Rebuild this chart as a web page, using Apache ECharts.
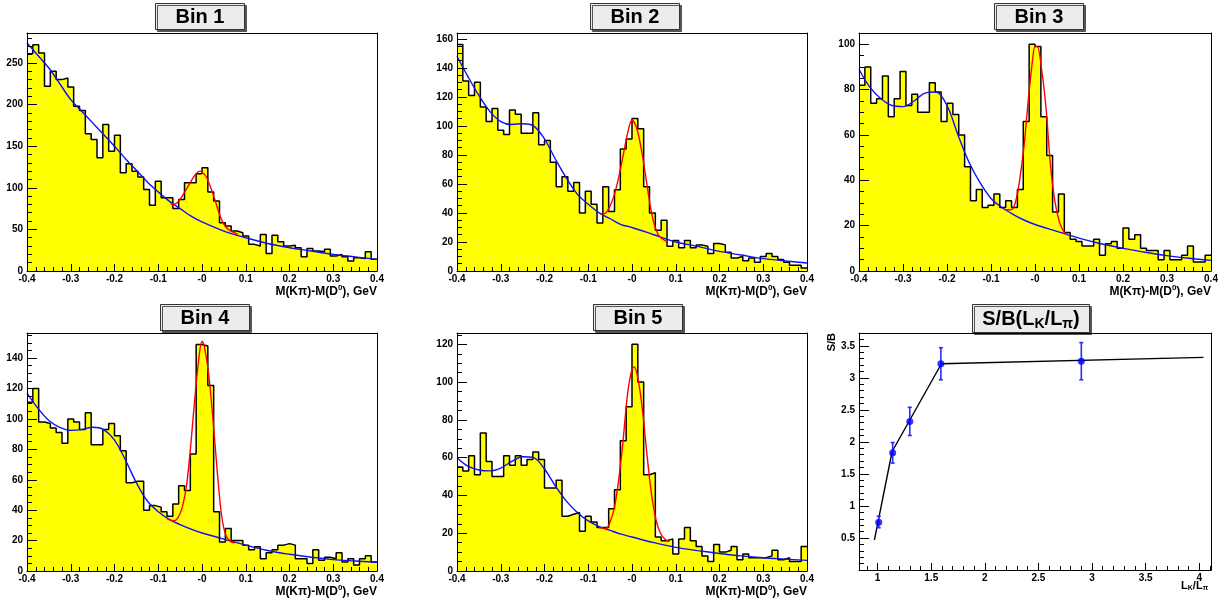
<!DOCTYPE html>
<html>
<head>
<meta charset="utf-8">
<script src="https://cdn.jsdelivr.net/npm/echarts@6.0.0/dist/echarts.min.js"></script>
<style>
html,body{margin:0;padding:0;background:#ffffff;}
#chart{width:1219px;height:601px;}
</style>
</head>
<body>
<div id="chart"></div>
<script>
// ---------------- data ----------------
const massRange = [-0.4, 0.4];          // M(Kpi)-M(D0), GeV
const nBins = 60;

const bin1Counts = [261,272,262,222,240,230,232,221,198,193, 165,158,136,176,144,163,118,129,120,113,
                    98,79,108,88,88,75,86,106,106,117, 124,95,84,58,54,48,46,42,32,30,
                    44,21,43,35,30,31,28,17,27,24, 23,26,18,20,17,12,16,15,23,14];
const bin2Counts = [156,131,121,130,113,103,112,97,94,111, 108,95,95,109,87,90,75,58,65,55,
                    61,40,55,46,33,58,41,56,84,91, 105,98,58,40,28,35,17,21,16,21,
                    16,18,17,12,19,18,13,9,10,7, 9,6,10,12,10,8,6,4,4,2];
const bin3Counts = [82,90,74,76,86,68,76,88,73,78, 70,70,83,79,66,74,69,60,46,31,
                    36,28,29,34,28,31,28,36,66,100, 99,68,51,26,34,17,14,13,11,11,
                    14,7,12,13,10,19,14,16,10,9, 9,5,9,5,5,7,11,4,4,7];
const bin4Counts = [111,120,98,97,94,91,84,100,98,93, 104,83,83,93,97,89,79,58,59,59,
                    40,43,42,39,36,44,56,53,77,149, 148,122,39,19,28,20,20,17,14,16,
                    8,12,14,17,18,17,8,8,5,14, 7,9,8,12,6,8,4,8,10,6];
const bin5Counts = [55,53,61,51,73,58,50,50,61,56, 61,56,59,63,59,44,44,48,29,30,
                    31,21,29,26,23,23,33,43,69,87, 120,100,51,52,18,16,17,9,17,23,
                    16,13,8,5,14,10,11,13,6,9, 7,7,7,8,11,6,7,5,5,13];

// background fit curves (blue), read at these x positions
const curveX = [-0.4,-0.375,-0.35,-0.325,-0.3,-0.275,-0.25,-0.225,-0.2,-0.175,-0.15,-0.125,-0.1,-0.075,-0.05,-0.025,0,0.05,0.1,0.15,0.2,0.25,0.3,0.35,0.4];
const bin1Bkg = [274,259,244,225,206,192,178,164,150,135,121,107,95,84,75,66,59,48,40,33,28,24,20,17,14];
const bin2Bkg = [148,134,121,110,103,101,101.5,100,91,77,64,53,46,40,36,32,30,25,20,17,13.5,11,8.5,7,5.5];
const bin3Bkg = [89,81,76,73,72.5,75,78.5,79,73,60,48,39,32,28,25,22.5,20.5,17.5,14.5,12,10,8.3,6.8,5.6,4.7];
const bin4Bkg = [117,107,99,94.5,92.5,93,94.5,93,86,73,58,46,39,34,30.5,27.5,25,21,17,13.5,11,9,7.5,6.6,5.8];
const bin5Bkg = [60,55.5,53.5,53,54.5,58,60.5,60,54,45,37,31,26.5,23.5,21.5,19.5,18,15,12.5,10.8,9.3,8,7,6.3,5.6];

// signal + background fit curves (red)
const bin1SigX = [-0.072,-0.065,-0.055,-0.045,-0.035,-0.025,-0.015,-0.005,0,0.01,0.02,0.03,0.04,0.05,0.06,0.07,0.082];
const bin1Sig  = [81,80,83,90,99,108,116,120,119,113,100,85,68,56,50,47,44];
const bin2SigX = [-0.072,-0.06,-0.05,-0.04,-0.03,-0.02,-0.01,0,0.01,0.02,0.03,0.04,0.05,0.06,0.07,0.08];
const bin2Sig  = [39,40,45,53,65,80,95,104,99,86,68,48,33,25,22,20];
const bin3SigX = [-0.065,-0.055,-0.045,-0.035,-0.025,-0.015,-0.005,0,0.005,0.015,0.025,0.035,0.045,0.055,0.065,0.075];
const bin3Sig  = [27,27,30,40,55,76,94,99,99,89,72,47,31,22,17.5,16];
const bin4SigX = [-0.08,-0.065,-0.055,-0.045,-0.035,-0.025,-0.015,-0.005,0,0.005,0.015,0.025,0.035,0.045,0.055,0.065,0.075];
const bin4Sig  = [34.5,33,35,42,57,85,118,145,151,148,130,100,65,36,23,19.5,18.5];
const bin5SigX = [-0.075,-0.06,-0.05,-0.04,-0.03,-0.02,-0.01,0,0.005,0.015,0.025,0.035,0.045,0.055,0.065,0.075,0.085];
const bin5Sig  = [23,22.5,26,34,49,70,94,107,108,100,83,60,40,27,20,17,15.5];

const histTitles = ['Bin 1','Bin 2','Bin 3','Bin 4','Bin 5'];
const histYMax = [286,164,105,156.5,126];
const histYStep = [50,20,20,20,20];
const histYMinorStep = [10,5,5,5,5];
const massTicks = [-0.4,-0.3,-0.2,-0.1,0,0.1,0.2,0.3,0.4];
const massTickLabels = ['-0.4','-0.3','-0.2','-0.1','-0','0.1','0.2','0.3','0.4'];
const massAxisTitle = 'M(K\u03c0)-M(D{sup|0}), GeV';

// S/B versus L_K/L_pi
const ratioX  = [1.01,1.14,1.30,1.59,2.90];
const sbValue = [0.745,1.83,2.32,3.22,3.26];
const sbLow   = [0.66,1.67,2.10,2.97,2.97];
const sbHigh  = [0.84,1.99,2.54,3.47,3.55];
const sbLineX = [0.97,1.135,1.595,4.04];
const sbLineY = [0.47,1.85,3.22,3.32];
const ratioRange = [0.826, 4.11];
const sbRange = [0, 3.7];
const ratioTicks = [1,1.5,2,2.5,3,3.5,4];
const ratioTickLabels = ['1','1.5','2','2.5','3','3.5','4'];
const sbTitle = 'S/B(L{sub|K}/L{sub|\u03c0})';
const ratioAxisTitle = 'L{sub|K}/L{sub|\u03c0}';

// ---------------- chart ----------------
const FONT = '"Liberation Sans", Arial, Helvetica, sans-serif';
const layout = [
  {left:27,  top:33,  width:350, height:238, tx:200,  ty:3},
  {left:457, top:33,  width:350, height:238, tx:635,  ty:3},
  {left:859, top:33,  width:352, height:238, tx:1039, ty:3},
  {left:27,  top:333, width:350, height:238, tx:205,  ty:304},
  {left:457, top:333, width:350, height:238, tx:638,  ty:304},
  {left:859, top:333, width:352, height:237, tx:1031, ty:304}
];
const counts = [bin1Counts,bin2Counts,bin3Counts,bin4Counts,bin5Counts];
const bkgs = [bin1Bkg,bin2Bkg,bin3Bkg,bin4Bkg,bin5Bkg];
const sigXs = [bin1SigX,bin2SigX,bin3SigX,bin4SigX,bin5SigX];
const sigs = [bin1Sig,bin2Sig,bin3Sig,bin4Sig,bin5Sig];

const grids = [], xAxes = [], yAxes = [], series = [], titles = [];
const black = {color:'#000', width:1};
const labelStyle = {color:'#000', fontFamily:FONT, fontWeight:'bold', fontSize:10};
const boxStyle = {backgroundColor:'#ececec', borderColor:'#333', borderWidth:1,
  shadowColor:'#555', shadowOffsetX:2, shadowOffsetY:2, shadowBlur:0};

function frameAxes(gi, xr, yr) {
  xAxes.push({gridIndex:gi, type:'value', min:xr[0], max:xr[1], position:'top', z:10,
    axisLine:{show:true, onZero:false, lineStyle:black}, axisTick:{show:false}, axisLabel:{show:false}, splitLine:{show:false}});
  yAxes.push({gridIndex:gi, type:'value', min:yr[0], max:yr[1], position:'right', z:10,
    axisLine:{show:true, onZero:false, lineStyle:black}, axisTick:{show:false}, axisLabel:{show:false}, splitLine:{show:false}});
}

const binW = (massRange[1]-massRange[0])/nBins;

for (let i = 0; i < 5; i++) {
  const L = layout[i];
  grids.push({left:L.left, top:L.top, width:L.width, height:L.height, show:false, containLabel:false, outerBoundsMode:'none'});
  titles.push(Object.assign({text:histTitles[i], left:L.tx - 20, top:L.ty, textAlign:'center', padding:[4,20,3,20],
    textStyle:{fontFamily:FONT, fontWeight:'bold', fontSize:20, color:'#000'}}, boxStyle));
  // axis title, right-aligned with the end of the axis
  titles.push({text:massAxisTitle, left:L.left + L.width, top:L.top + L.height + 13, textAlign:'right', padding:0,
    textStyle:{fontFamily:FONT, fontWeight:'bold', fontSize:12, color:'#000', lineHeight:16,
      rich:{sup:{fontFamily:FONT, fontWeight:'bold', fontSize:8, color:'#000', verticalAlign:'top', lineHeight:9}}}});
  const xi = xAxes.length;
  xAxes.push({gridIndex:i, type:'value', min:massRange[0], max:massRange[1], interval:0.1, position:'bottom', z:10,
    axisLine:{show:true, onZero:false, lineStyle:black},
    axisTick:{show:true, inside:true, length:7, lineStyle:black},
    minorTick:{show:true, splitNumber:5, length:4, lineStyle:black},
    splitLine:{show:false}, minorSplitLine:{show:false},
    axisLabel:Object.assign({margin:3, formatter:function(v){
      const k = massTicks.findIndex(t => Math.abs(t - v) < 1e-6);
      return k >= 0 ? massTickLabels[k] : '';
    }}, labelStyle)
  });
  const yi = yAxes.length;
  yAxes.push({gridIndex:i, type:'value', min:0, max:histYMax[i], interval:histYStep[i], position:'left', z:10,
    axisLine:{show:true, onZero:false, lineStyle:black},
    axisTick:{show:true, inside:true, length:10, lineStyle:black},
    splitLine:{show:false},
    axisLabel:Object.assign({margin:4, showMaxLabel:false, formatter:v => String(Math.round(v))}, labelStyle)});
  yAxes.push({gridIndex:i, type:'value', min:0, max:histYMax[i], interval:histYMinorStep[i], position:'left', z:10,
    axisLine:{show:false, onZero:false}, axisTick:{show:true, inside:true, length:5, lineStyle:black},
    splitLine:{show:false}, axisLabel:{show:false}});
  frameAxes(i, massRange, [0, histYMax[i]]);

  const c = counts[i];
  const histData = c.map((v,k) => [massRange[0] + k*binW, v]);
  histData.push([massRange[1], c[c.length-1]]);
  series.push({type:'line', xAxisIndex:xi, yAxisIndex:yi, data:histData, step:'end', symbol:'none',
    lineStyle:{color:'#000', width:1.5}, areaStyle:{color:'#ffff00', opacity:1}, z:2, silent:true});
  series.push({type:'line', xAxisIndex:xi, yAxisIndex:yi, data:curveX.map((x,k)=>[x, bkgs[i][k]]), smooth:0.35,
    symbol:'none', lineStyle:{color:'#1010ee', width:1.4}, z:3, silent:true});
  series.push({type:'line', xAxisIndex:xi, yAxisIndex:yi, data:sigXs[i].map((x,k)=>[x, sigs[i][k]]), smooth:0.35,
    symbol:'none', lineStyle:{color:'#ff0000', width:1.4}, z:4, silent:true});
}

// panel 6
{
  const L = layout[5];
  grids.push({left:L.left, top:L.top, width:L.width, height:L.height, show:false, containLabel:false, outerBoundsMode:'none'});
  titles.push(Object.assign({text:sbTitle, left:L.tx - 10, top:L.ty, textAlign:'center', padding:[3,10,2,10],
    textStyle:{fontFamily:FONT, fontWeight:'bold', fontSize:20, color:'#000', lineHeight:24,
      rich:{sub:{fontFamily:FONT, fontWeight:'bold', fontSize:14, color:'#000', verticalAlign:'bottom', lineHeight:12}}}}, boxStyle));
  titles.push({text:ratioAxisTitle, left:L.left + L.width - 3, top:L.top + L.height + 9, textAlign:'right', padding:0,
    textStyle:{fontFamily:FONT, fontWeight:'bold', fontSize:11, color:'#000', lineHeight:13,
      rich:{sub:{fontFamily:FONT, fontWeight:'bold', fontSize:7, color:'#000', verticalAlign:'bottom', lineHeight:8}}}});
  const minorX = [];
  for (let v = 9; v <= 41; v++) minorX.push(v/10);
  const xi = xAxes.length;
  xAxes.push({gridIndex:5, type:'value', min:ratioRange[0], max:ratioRange[1], position:'bottom', z:10,
    axisLine:{show:true, onZero:false, lineStyle:black},
    axisTick:{show:true, inside:true, length:7, lineStyle:black, customValues:ratioTicks},
    splitLine:{show:false},
    axisLabel:Object.assign({margin:3, customValues:ratioTicks, formatter:function(v){
      const k = ratioTicks.findIndex(t => Math.abs(t - v) < 1e-6);
      return k >= 0 ? ratioTickLabels[k] : '';
    }}, labelStyle)
  });
  xAxes.push({gridIndex:5, type:'value', min:ratioRange[0], max:ratioRange[1], position:'bottom', z:10,
    axisLine:{show:false, onZero:false}, axisTick:{show:true, inside:true, length:4, lineStyle:black, customValues:minorX},
    axisLabel:{show:false}, splitLine:{show:false}});
  const yi = yAxes.length;
  yAxes.push({gridIndex:5, type:'value', min:sbRange[0], max:sbRange[1], interval:0.5, position:'left', z:10,
    axisLine:{show:true, onZero:false, lineStyle:black},
    axisTick:{show:true, inside:true, length:10, lineStyle:black},
    splitLine:{show:false},
    axisLabel:Object.assign({margin:4, showMaxLabel:false, formatter:v => (Math.abs(v) < 1e-9 ? '' : String(+v.toFixed(1)))}, labelStyle),
    name:'S/B', nameLocation:'end', nameGap:0, nameRotate:90,
    nameTextStyle:{fontFamily:FONT, fontWeight:'bold', fontSize:11, color:'#000', align:'right', verticalAlign:'bottom', padding:[0,0,22,0]}
  });
  yAxes.push({gridIndex:5, type:'value', min:sbRange[0], max:sbRange[1], interval:0.1, position:'left', z:10,
    axisLine:{show:false, onZero:false}, axisTick:{show:true, inside:true, length:5, lineStyle:black},
    splitLine:{show:false}, axisLabel:{show:false}});
  frameAxes(5, ratioRange, sbRange);

  series.push({type:'line', xAxisIndex:xi, yAxisIndex:yi, data:sbLineX.map((x,k)=>[x, sbLineY[k]]), symbol:'none',
    lineStyle:{color:'#000', width:1.4}, z:2, silent:true});
  series.push({type:'custom', xAxisIndex:xi, yAxisIndex:yi, z:3, silent:true,
    data:ratioX.map((x,k)=>[x, sbLow[k], sbHigh[k]]),
    encode:{x:0, y:[1,2]},
    renderItem:function(params, api){
      const x = api.value(0);
      const p0 = api.coord([x, api.value(1)]);
      const p1 = api.coord([x, api.value(2)]);
      const cap = 2;
      const st = {stroke:'#2b2bff', lineWidth:1.6};
      return {type:'group', children:[
        {type:'line', shape:{x1:p0[0], y1:p0[1], x2:p1[0], y2:p1[1]}, style:st},
        {type:'line', shape:{x1:p0[0]-cap, y1:p0[1], x2:p0[0]+cap, y2:p0[1]}, style:st},
        {type:'line', shape:{x1:p1[0]-cap, y1:p1[1], x2:p1[0]+cap, y2:p1[1]}, style:st}
      ]};
    }});
  series.push({type:'scatter', xAxisIndex:xi, yAxisIndex:yi, data:ratioX.map((x,k)=>[x, sbValue[k]]),
    symbol:'circle', symbolSize:7, itemStyle:{color:'#0000ff'}, z:4, silent:true});
}

const chart = echarts.init(document.getElementById('chart'), null, {renderer:'canvas', width:1219, height:601});
chart.setOption({
  animation:false,
  backgroundColor:'#ffffff',
  title:titles,
  grid:grids,
  xAxis:xAxes,
  yAxis:yAxes,
  series:series
});
</script>
</body>
</html>
